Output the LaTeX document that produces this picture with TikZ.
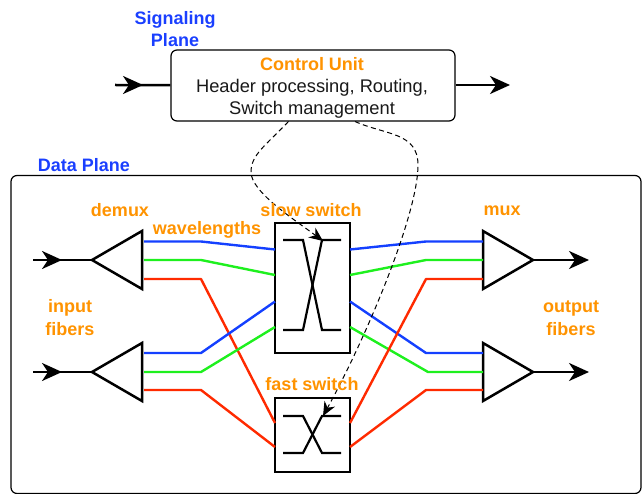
\documentclass[tikz,border=0pt]{standalone}
\usepackage{fontspec}
\setmainfont{Liberation Sans}
\usetikzlibrary{arrows.meta}
\definecolor{lblorange}{HTML}{FF9300}
\definecolor{lblblue}{HTML}{1A3FFF}
\definecolor{wblue}{HTML}{1440FF}
\definecolor{wgreen}{HTML}{1EF01E}
\definecolor{wred}{HTML}{FF2A00}
\tikzset{
  orangelbl/.style={text=lblorange,font=\fontsize{18}{22}\selectfont\bfseries,inner sep=0pt,align=center},
  bluelbl/.style={text=lblblue,font=\fontsize{18}{22}\selectfont\bfseries,inner sep=0pt,align=center},
  tri/.style={draw=black,line width=2.5pt,line join=miter,fill=white},
  fiber/.style={draw=black,line width=2.5pt},
  fiberarrow/.style={fiber,-{Stealth[length=20pt,width=18pt,inset=6pt]}},
  swbox/.style={draw=black,line width=2.6pt,inner sep=0pt,minimum width=75pt,fill=white},
  swline/.style={draw=black,line width=2.2pt},
  wave/.style={line width=2.4pt,line join=round},
  ctrl/.style={draw=black,line width=1.2pt,rounded corners=6pt,fill=white,inner sep=0pt,minimum width=284pt,minimum height=71pt},
  signal/.style={draw=black,line width=1pt,dash pattern=on 5pt off 3.5pt,-{Stealth[length=14pt,width=12pt]}},
}
\begin{document}
\begin{tikzpicture}[x=1pt,y=-1pt]
\useasboundingbox (0,0) rectangle (642,494);
% frame
\node[draw=black,line width=1.2pt,rounded corners=6pt,minimum width=630pt,minimum height=318pt,inner sep=0pt] (dataplane) at (326,334.5) {};
% boxes
\node[swbox,minimum height=130pt] (slow) at (312.5,288) {};
\node[swbox,minimum height=74pt] (fast) at (312.5,435) {};
% triangles
\foreach \n/\y in {dm1/260,dm2/372}{
  \coordinate (\n) at (92,\y);
  \draw[tri] (\n) -- (142,\y-29) -- (142,\y+29) -- cycle;
}
\foreach \n/\y in {mx1/260,mx2/372}{
  \coordinate (\n) at (533,\y);
  \draw[tri] (\n) -- (483,\y-29) -- (483,\y+29) -- cycle;
}
% wavelengths
\coordinate (s1) at (275,249.5); \coordinate (s2) at (275,275); \coordinate (s3) at (275,301.5); \coordinate (s4) at (275,327);
\coordinate (f1) at (275,423); \coordinate (f2) at (275,447);
\coordinate (t1) at (350,249.5); \coordinate (t2) at (350,275); \coordinate (t3) at (350,301.5); \coordinate (t4) at (350,327);
\coordinate (g1) at (350,423); \coordinate (g2) at (350,447);
\draw[wave,wred] (144,279) -- (201,279) -- (f1);
\draw[wave,wred] (144,390) -- (201,390) -- (f2);
\draw[wave,wblue] (144,241.5) -- (201,241.5) -- (s1);
\draw[wave,wgreen] (144,260) -- (201,260) -- (s2);
\draw[wave,wgreen] (144,372) -- (201,372) -- (s4);
\draw[wave,wblue] (144,353) -- (201,353) -- (s3);
\draw[wave,wblue] (t1) -- (426,241.5) -- (483,241.5);
\draw[wave,wgreen] (t2) -- (426,260) -- (483,260);
\draw[wave,wgreen] (t4) -- (428,372) -- (483,372);
\draw[wave,wblue] (t3) -- (426,353) -- (483,353);
\draw[wave,wred] (g1) -- (426,279) -- (483,279);
\draw[wave,wred] (g2) -- (426,390) -- (483,390);
% switch fabric
\draw[swline] (283,240) -- (303,240) -- (322,330) -- (341,330);
\draw[swline] (283,330) -- (303,330) -- (322,240) -- (341,240);
\draw[swline] (283,416) -- (303,416) -- (322,453) -- (341,453);
\draw[swline] (283,453) -- (303,453) -- (322,416) -- (341,416);
% control unit
\node[ctrl] (cu) at (313,85.5) {};
\node[orangelbl] (cutitle) at (312,64) {Control Unit};
\node[font=\fontsize{18.3}{22}\selectfont,inner sep=0pt,text=black!90] (cul1) at (312,87.5) {Header processing, Routing,};
\node[font=\fontsize{18.3}{22}\selectfont,inner sep=0pt,text=black!90] (cul2) at (312,109.5) {Switch management};
% fibers
\coordinate (inA) at (33,260); \coordinate (tipA) at (62,260);
\coordinate (inB) at (33,372); \coordinate (tipB) at (62,372);
\draw[fiber] (inA) -- (dm1); \draw[fiberarrow] (inA) -- (tipA);
\draw[fiber] (inB) -- (dm2); \draw[fiberarrow] (inB) -- (tipB);
\coordinate (outA) at (589,260); \coordinate (outB) at (589,372);
\draw[fiberarrow] (mx1) -- (outA);
\draw[fiberarrow] (mx2) -- (outB);
\coordinate (cin) at (115,85); \coordinate (ctip) at (143,85); \coordinate (cout) at (510,85);
\draw[fiber] (cin) -- (cu); \draw[fiberarrow] (cin) -- (ctip);
\draw[fiberarrow] (cu.east |- cin) -- (cout);
% signalling
\coordinate (sa) at (288.5,121.5); \coordinate (sb) at (355,121.5);
\coordinate (ta) at (323,241); \coordinate (tb) at (323,416);
\draw[signal] (sa) .. controls (265,146) and (251,155) .. (251,172) .. controls (251,192) and (295,220) .. (ta);
\draw[signal] (sb) .. controls (385,135) and (418,132) .. (418,165) .. controls (418,215) and (365,340) .. (tb);
% labels
\node[bluelbl] (sp) at (175,29.5) {Signaling\\Plane};
\node[bluelbl] (dp) at (84,165.5) {Data Plane};
\node[orangelbl] (demux) at (120,210.5) {demux};
\node[orangelbl] (wl) at (207,229.5) {wavelengths};
\node[orangelbl] (ss) at (311,210.5) {slow switch};
\node[orangelbl] (mux) at (502,210.5) {mux};
\node[orangelbl,font=\fontsize{18}{23}\selectfont\bfseries] (inf) at (70,318) {input\\fibers};
\node[orangelbl,font=\fontsize{18}{23}\selectfont\bfseries] (outf) at (571,318) {output\\fibers};
\node[orangelbl] (fs) at (312,384.5) {fast switch};
\end{tikzpicture}
\end{document}
